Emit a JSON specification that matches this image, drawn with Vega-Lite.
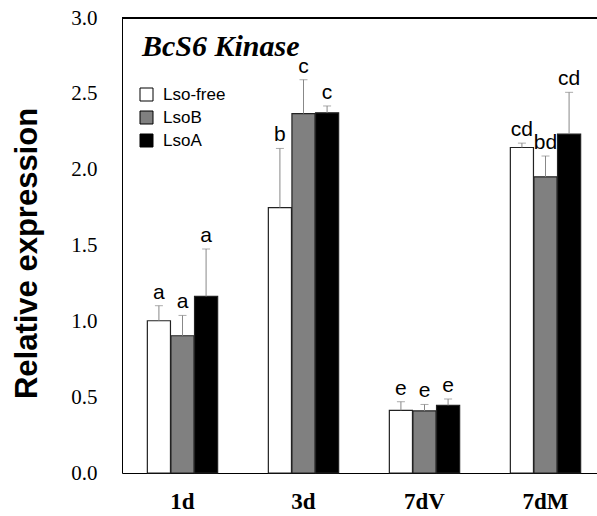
{
  "$schema": "https://vega.github.io/schema/vega-lite/v6.json",
  "width": 475,
  "height": 455,
  "autosize": "none",
  "padding": {"left": 122, "top": 18, "right": 0, "bottom": 43},
  "background": "white",
  "title": {
    "text": "BcS6 Kinase",
    "font": "Liberation Serif",
    "fontSize": 30,
    "fontWeight": "bold",
    "fontStyle": "italic",
    "color": "black",
    "anchor": "start",
    "frame": "group",
    "orient": "top",
    "baseline": "alphabetic",
    "offset": -79,
    "dx": 20
  },
  "config": {
    "view": {"stroke": null},
    "axis": {"domain": true, "domainColor": "black", "domainWidth": 1, "grid": false, "ticks": false}
  },
  "data": {
    "values": [
      {"time": "1d", "group": "Lso-free", "value": 1.004, "upper": 1.103, "label": "a"},
      {"time": "1d", "group": "LsoB", "value": 0.905, "upper": 1.039, "label": "a"},
      {"time": "1d", "group": "LsoA", "value": 1.164, "upper": 1.477, "label": "a"},
      {"time": "3d", "group": "Lso-free", "value": 1.75, "upper": 2.14, "label": "b"},
      {"time": "3d", "group": "LsoB", "value": 2.37, "upper": 2.593, "label": "c"},
      {"time": "3d", "group": "LsoA", "value": 2.375, "upper": 2.42, "label": "c"},
      {"time": "7dV", "group": "Lso-free", "value": 0.413, "upper": 0.47, "label": "e"},
      {"time": "7dV", "group": "LsoB", "value": 0.409, "upper": 0.452, "label": "e"},
      {"time": "7dV", "group": "LsoA", "value": 0.446, "upper": 0.488, "label": "e"},
      {"time": "7dM", "group": "Lso-free", "value": 2.146, "upper": 2.175, "label": "cd"},
      {"time": "7dM", "group": "LsoB", "value": 1.953, "upper": 2.09, "label": "bd"},
      {"time": "7dM", "group": "LsoA", "value": 2.235, "upper": 2.51, "label": "cd"}
    ]
  },
  "layer": [
    {
      "encoding": {
        "x": {
          "field": "time",
          "type": "nominal",
          "sort": ["1d", "3d", "7dV", "7dM"],
          "scale": {"range": [0, 484], "paddingInner": 0.419, "paddingOuter": 0.2095},
          "axis": {
            "title": null,
            "domain": true,
            "domainColor": "black",
            "labelAngle": 0,
            "labelFont": "Liberation Serif",
            "labelFontSize": 23,
            "labelFontWeight": "bold",
            "labelColor": "black",
            "labelPadding": 17
          }
        },
        "xOffset": {
          "field": "group",
          "type": "nominal",
          "sort": ["Lso-free", "LsoB", "LsoA"],
          "scale": {"paddingInner": 0.02, "paddingOuter": 0}
        }
      },
      "layer": [
        {
          "mark": {"type": "bar", "stroke": "#222", "strokeWidth": 1.2},
          "encoding": {
            "y": {
              "field": "value",
              "type": "quantitative",
              "scale": {"domain": [0, 3], "nice": false, "zero": true},
              "axis": {
                "values": [0, 0.5, 1, 1.5, 2, 2.5, 3],
                "format": ".1f",
                "domain": true,
                "domainColor": "black",
                "labelFont": "Liberation Serif",
                "labelFontSize": 21,
                "labelColor": "black",
                "labelPadding": 25,
                "title": "Relative expression",
                "titleFont": "Liberation Sans",
                "titleFontSize": 31,
                "titleFontWeight": "bold",
                "titleColor": "black",
                "titlePadding": 27,
                "titleY": 235
              }
            },
            "fill": {
              "field": "group",
              "type": "nominal",
              "sort": ["Lso-free", "LsoB", "LsoA"],
              "scale": {"domain": ["Lso-free", "LsoB", "LsoA"], "range": ["white", "#808080", "black"]},
              "legend": {
                "title": null,
                "orient": "none",
                "legendX": 16,
                "legendY": 68,
                "symbolType": "square",
                "symbolSize": 169,
                "symbolStrokeColor": "black",
                "symbolStrokeWidth": 1,
                "labelFont": "Liberation Sans",
                "labelFontSize": 17,
                "labelColor": "black",
                "labelOffset": 8,
                "rowPadding": 5
              }
            }
          }
        },
        {
          "mark": {"type": "rule", "color": "#888", "strokeWidth": 1},
          "encoding": {
            "y": {"field": "value", "type": "quantitative"},
            "y2": {"field": "upper"}
          }
        },
        {
          "mark": {"type": "tick", "color": "#888", "thickness": 1, "size": 8, "orient": "horizontal"},
          "encoding": {
            "y": {"field": "upper", "type": "quantitative"}
          }
        },
        {
          "mark": {"type": "text", "font": "Liberation Sans", "fontSize": 21, "color": "black", "baseline": "alphabetic", "dy": -7},
          "encoding": {
            "y": {"field": "upper", "type": "quantitative"},
            "text": {"field": "label"}
          }
        }
      ]
    },
    {
      "mark": {"type": "rule", "color": "black", "strokeWidth": 1},
      "encoding": {
        "y": {"datum": 3, "type": "quantitative"}
      }
    }
  ]
}
